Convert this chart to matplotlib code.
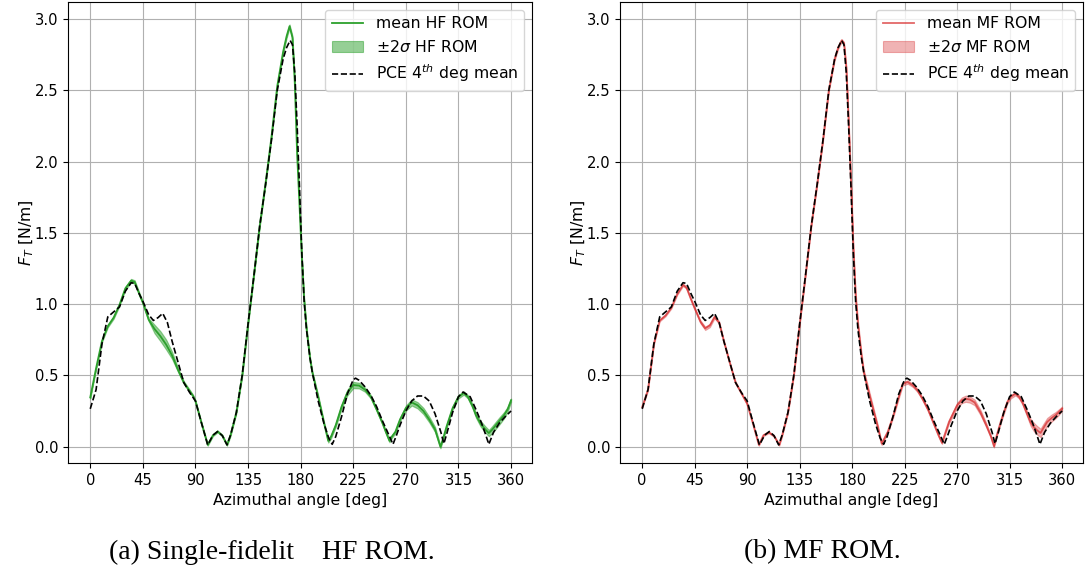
import matplotlib
matplotlib.use('Agg')
import matplotlib.pyplot as plt
import numpy as np

plt.rcParams['font.size'] = 11.3
plt.rcParams['xtick.labelsize'] = 10.6
plt.rcParams['ytick.labelsize'] = 10.6

# PCE 4th degree mean (shared by both panels)
pce_deg = [0, 5, 10, 15, 20, 25, 30, 35, 38, 42, 45, 50, 54, 58, 62, 66, 70, 75,
           80, 85, 90, 95, 100.5, 105, 109, 113, 117, 120, 125, 130, 135, 140, 145,
           150, 155, 160, 165, 168, 171, 173, 175, 177, 179, 181, 183, 185, 188,
           190, 195, 200, 204, 207, 210, 215, 220, 225, 227, 230, 235, 240, 245,
           250, 255, 259, 262, 265, 270, 275, 280, 285, 290, 295, 300, 302.5, 305,
           310, 315, 319, 325, 330, 335, 338, 341, 345, 350, 355, 360]
pce_mean = [0.265, 0.40, 0.72, 0.91, 0.945, 0.98, 1.09, 1.15, 1.145, 1.07, 1.02,
            0.925, 0.885, 0.905, 0.935, 0.87, 0.74, 0.595, 0.45, 0.38, 0.32, 0.17,
            0.012, 0.08, 0.106, 0.077, 0.012, 0.08, 0.24, 0.50, 0.86, 1.20, 1.55,
            1.84, 2.15, 2.50, 2.72, 2.80, 2.85, 2.82, 2.62, 2.25, 1.82, 1.36, 1.02,
            0.82, 0.62, 0.52, 0.32, 0.16, 0.06, 0.016, 0.07, 0.21, 0.37, 0.47,
            0.48, 0.465, 0.42, 0.36, 0.28, 0.18, 0.09, 0.016, 0.08, 0.15, 0.25,
            0.32, 0.355, 0.355, 0.32, 0.23, 0.10, 0.02, 0.09, 0.24, 0.35, 0.383,
            0.35, 0.26, 0.16, 0.09, 0.016, 0.10, 0.165, 0.21, 0.25]

# single-fidelity HF ROM
hf_deg = [0, 5, 10, 15, 20, 25, 30, 35, 38, 42, 45, 50, 55, 60, 65, 70, 75, 80,
          85, 88, 90, 95, 100.5, 105, 109, 113, 117, 120, 125, 130, 135, 140, 145,
          150, 155, 160, 165, 168, 170.5, 173, 175, 177, 179, 181, 183, 185, 188,
          190, 195, 200, 203.6, 206, 210, 215, 220, 225, 230, 235, 240, 245, 250,
          253, 256, 258, 261, 265, 270, 275, 280, 285, 290, 295, 299.6, 302, 305,
          310, 315, 319.5, 323, 327, 330, 334, 338, 341, 344, 347, 350, 354, 357,
          360]
hf_mean = [0.345, 0.55, 0.74, 0.845, 0.905, 0.995, 1.11, 1.165, 1.155, 1.07, 1.01,
           0.89, 0.825, 0.775, 0.715, 0.64, 0.54, 0.45, 0.39, 0.355, 0.32, 0.17,
           0.012, 0.08, 0.106, 0.077, 0.012, 0.08, 0.24, 0.50, 0.86, 1.20, 1.55,
           1.85, 2.17, 2.53, 2.77, 2.88, 2.95, 2.87, 2.55, 2.05, 1.70, 1.33, 1.03,
           0.83, 0.62, 0.52, 0.35, 0.165, 0.04, 0.07, 0.15, 0.28, 0.38, 0.432,
           0.428, 0.40, 0.35, 0.26, 0.165, 0.10, 0.04, 0.07, 0.103, 0.19, 0.27,
           0.31, 0.29, 0.25, 0.19, 0.12, -0.002, 0.06, 0.145, 0.27, 0.35, 0.376,
           0.35, 0.285, 0.22, 0.16, 0.12, 0.095, 0.12, 0.15, 0.18, 0.22, 0.26,
           0.325]
hf_2sigma = [0.008, 0.008, 0.008, 0.008, 0.008, 0.008, 0.01, 0.012, 0.012, 0.01,
             0.01, 0.01, 0.03, 0.035, 0.035, 0.025, 0.015, 0.01, 0.01, 0.008, 0.006,
             0.006, 0.006, 0.006, 0.006, 0.006, 0.006, 0.006, 0.006, 0.006, 0.006,
             0.006, 0.006, 0.008, 0.008, 0.01, 0.012, 0.012, 0.012, 0.012, 0.012,
             0.012, 0.012, 0.012, 0.01, 0.01, 0.01, 0.01, 0.01, 0.01, 0.012, 0.012,
             0.012, 0.015, 0.02, 0.022, 0.02, 0.015, 0.012, 0.01, 0.01, 0.01,
             0.01, 0.01, 0.01, 0.012, 0.018, 0.022, 0.022, 0.022, 0.02, 0.018,
             0.01, 0.01, 0.01, 0.012, 0.012, 0.012, 0.012, 0.015, 0.018, 0.02,
             0.022, 0.022, 0.025, 0.025, 0.025, 0.022, 0.018, 0.012]

# multi-fidelity MF ROM
mf_deg = [0, 5, 10, 15, 20, 25, 30, 35, 38, 42, 45, 50, 54, 58, 62, 66, 70, 75,
          80, 85, 90, 95, 100, 104, 108.5, 113, 117.5, 120, 125, 130, 135, 140,
          145, 150, 155, 160, 165, 168, 171, 173, 175, 177, 179, 181, 183, 185,
          188, 190, 196, 202, 205.3, 210.5, 215, 220, 223.3, 227.6, 232, 236, 240,
          245, 250, 254, 257, 260, 263, 267, 270, 274, 277.4, 281, 285, 290, 295,
          299, 301.6, 304, 307.3, 313, 316, 320, 323, 326, 330, 333, 336, 338.6,
          341.5, 344, 347.2, 351, 354.3, 357, 360]
mf_mean = [0.277, 0.40, 0.72, 0.885, 0.92, 0.975, 1.07, 1.135, 1.115, 1.03, 0.97,
           0.875, 0.83, 0.85, 0.91, 0.87, 0.74, 0.59, 0.45, 0.375, 0.30, 0.16,
           0.012, 0.08, 0.10, 0.075, 0.012, 0.08, 0.24, 0.50, 0.86, 1.20, 1.55,
           1.84, 2.15, 2.50, 2.72, 2.80, 2.85, 2.83, 2.66, 2.28, 1.86, 1.40, 1.06,
           0.86, 0.64, 0.52, 0.325, 0.138, 0.021, 0.103, 0.21, 0.35, 0.44, 0.453,
           0.43, 0.395, 0.34, 0.26, 0.16, 0.08, 0.026, 0.10, 0.173, 0.24, 0.29,
           0.325, 0.336, 0.33, 0.31, 0.24, 0.15, 0.07, 0.002, 0.08, 0.173, 0.313,
           0.35, 0.371, 0.35, 0.31, 0.23, 0.17, 0.135, 0.114, 0.096, 0.13, 0.173,
           0.20, 0.22, 0.24, 0.266]
mf_2sigma = [0.006, 0.006, 0.006, 0.006, 0.006, 0.006, 0.006, 0.008, 0.008, 0.008,
             0.008, 0.01, 0.012, 0.012, 0.01, 0.008, 0.008, 0.008, 0.008, 0.006,
             0.006, 0.006, 0.006, 0.006, 0.006, 0.006, 0.006, 0.006, 0.006, 0.006,
             0.006, 0.006, 0.006, 0.006, 0.008, 0.008, 0.01, 0.01, 0.01, 0.01,
             0.012, 0.015, 0.018, 0.02, 0.02, 0.02, 0.02, 0.02, 0.02, 0.015, 0.01,
             0.01, 0.01, 0.012, 0.012, 0.012, 0.012, 0.012, 0.01, 0.01, 0.01,
             0.008, 0.008, 0.01, 0.012, 0.015, 0.018, 0.02, 0.022, 0.022, 0.02,
             0.018, 0.015, 0.01, 0.008, 0.01, 0.012, 0.012, 0.012, 0.012, 0.012,
             0.015, 0.02, 0.025, 0.03, 0.03, 0.03, 0.03, 0.028, 0.025, 0.022,
             0.02, 0.015]

xticks = np.arange(0, 361, 45)
yticks = np.arange(0, 3.01, 0.5)


def draw_panel(ax, deg, mean, two_sigma, color, tag, line_alpha, band_alpha):
    deg = np.asarray(deg)
    mean = np.asarray(mean)
    two_sigma = np.asarray(two_sigma)
    ax.plot(deg, mean, color=color, lw=1.3, alpha=line_alpha,
            label=f'mean {tag} ROM', zorder=3)
    ax.fill_between(deg, mean - two_sigma, mean + two_sigma, color=color,
                    alpha=band_alpha, lw=0.8, label=rf'$\pm2\sigma$ {tag} ROM',
                    zorder=2)
    ax.plot(pce_deg, pce_mean, 'k--', lw=1.2, label=r'PCE $4^{th}$ deg mean',
            zorder=4)
    ax.set_xticks(xticks)
    ax.set_yticks(yticks)
    ax.set_xlim(-19, 378)
    ax.set_ylim(-0.115, 3.12)
    ax.grid(True, color='#b0b0b0', lw=0.8)
    ax.set_axisbelow(True)
    ax.set_xlabel('Azimuthal angle [deg]', labelpad=4)
    ax.set_ylabel(r'$F_T$ [N/m]')
    ax.yaxis.set_label_coords(-0.07, 0.5)
    ax.legend(loc='upper right', framealpha=0.8)


fig = plt.figure(figsize=(10.87, 5.78), dpi=100)
ax1 = fig.add_axes([0.0626, 0.199, 0.4269, 0.7976])
ax2 = fig.add_axes([0.5704, 0.199, 0.426, 0.7976])

draw_panel(ax1, hf_deg, hf_mean, hf_2sigma, 'tab:green', 'HF', 1.0, 0.5)
draw_panel(ax2, mf_deg, mf_mean, mf_2sigma, 'tab:red', 'MF', 0.7, 0.35)

fig.text(0.250, 0.045, '(a) Single-fidelit    HF ROM.', ha='center',
         va='center', family='Liberation Serif', fontsize=20)
fig.text(0.757, 0.045, '(b) MF ROM.', ha='center', va='center',
         family='Liberation Serif', fontsize=20)

fig.savefig('out.png', dpi=100)
